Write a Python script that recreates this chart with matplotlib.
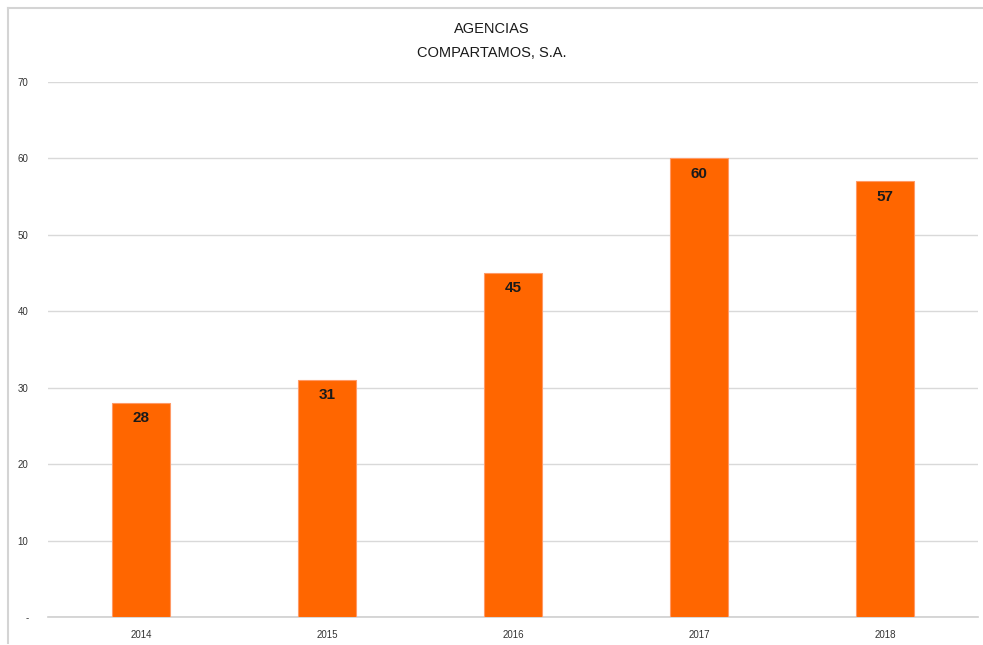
import matplotlib.pyplot as plt
from matplotlib.lines import Line2D

years = ["2014", "2015", "2016", "2017", "2018"]
agencias = [28, 31, 45, 60, 57]
yticks = [0, 10, 20, 30, 40, 50, 60, 70]
ytick_labels = ["-", "10", "20", "30", "40", "50", "60", "70"]

plt.rcParams['font.family'] = ['Liberation Sans', 'DejaVu Sans']

fig = plt.figure(figsize=(9.83, 6.45), dpi=100)
ax = fig.add_axes([0.0488, 0.0434, 0.9462, 0.8296])

x = range(len(years))
bars = ax.bar(x, agencias, width=0.31, color='#FF6600', edgecolor='#FF9A66', linewidth=0.8, zorder=3)

for xi, v in zip(x, agencias):
    ax.text(xi, v - 1.1, str(v), ha='center', va='top', fontsize=11,
            fontweight='bold', color='#1a1a1a', zorder=4)

ax.set_xlim(-0.5, len(years) - 0.5)
ax.set_ylim(0, 70)
ax.set_yticks(yticks)
ax.set_yticklabels(ytick_labels, fontsize=7, color='#333333')
ax.set_xticks(list(x))
ax.set_xticklabels(years, fontsize=7, color='#333333')
ax.tick_params(axis='both', length=0)
ax.tick_params(axis='y', pad=14)
ax.tick_params(axis='x', pad=9)

ax.grid(axis='y', color='#d9d9d9', linewidth=1, zorder=0)
for s in ['top', 'right', 'left']:
    ax.spines[s].set_visible(False)
ax.spines['bottom'].set_color('#cfcfcf')
ax.spines['bottom'].set_linewidth(1.2)

fig.text(0.5, 0.955, "AGENCIAS", ha='center', va='center', fontsize=10.5, color='#1a1a1a')
fig.text(0.5, 0.918, "COMPARTAMOS, S.A.", ha='center', va='center', fontsize=10.5, color='#1a1a1a')

# outer chart frame (top and left edges visible)
fig.add_artist(Line2D([8 / 983, 8 / 983], [0.003, 1 - 8 / 645], color='#d4d4d4', linewidth=1.5))
fig.add_artist(Line2D([8 / 983, 1.0], [1 - 8 / 645, 1 - 8 / 645], color='#d4d4d4', linewidth=1.5))

fig.savefig("out.png", dpi=100)
